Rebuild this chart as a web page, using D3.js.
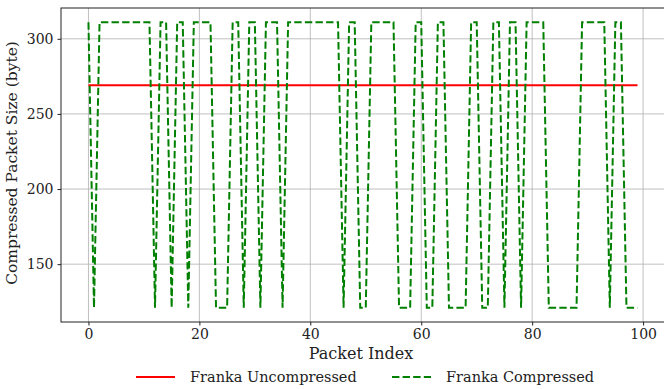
<!DOCTYPE html>
<meta charset="utf-8">
<head>
<style>
body { margin: 0; background: #fff; }
svg text { font-family: "DejaVu Serif", "Liberation Serif", serif; fill: #222; }
.grid line { stroke: #b0b0b0; stroke-width: 0.8; }
.axis path, .axis line { stroke: #222; }
</style>
</head>
<body>
<div id="chart"></div>
<script src="https://d3js.org/d3.v7.min.js"></script>
<script>

// packet sizes
var uncompressedSize = 269;
var compressedSizes = [
  311, 121, 311, 311, 311, 311, 311, 311, 311, 311,
  311, 311, 121, 311, 311, 121, 311, 311, 121, 311,
  311, 311, 311, 121, 121, 121, 311, 311, 121, 311,
  311, 121, 311, 311, 311, 121, 311, 311, 311, 311,
  311, 311, 311, 311, 311, 311, 121, 311, 311, 121,
  121, 311, 311, 311, 311, 311, 121, 121, 121, 311,
  311, 121, 121, 311, 311, 121, 121, 121, 121, 311,
  311, 121, 121, 311, 311, 121, 311, 311, 121, 311,
  311, 311, 311, 121, 121, 121, 121, 121, 121, 311,
  311, 311, 311, 311, 121, 311, 311, 121, 121, 121
];
var xTicks = [0, 20, 40, 60, 80, 100];
var yTicks = [150, 200, 250, 300];
var legendLabels = ["Franka Uncompressed", "Franka Compressed"];

var W = 664, H = 389;
var margin = {top: 8, right: -1, bottom: 67, left: 61};
var width = W - margin.left - margin.right,
    height = H - margin.top - margin.bottom;

var svg = d3.select("#chart").append("svg")
    .attr("width", W).attr("height", H)
  .append("g")
    .attr("transform", "translate(" + margin.left + "," + margin.top + ")");

var n = compressedSizes.length;
var x = d3.scaleLinear()
    .domain([-(n - 1) * 0.05, (n - 1) * 1.05])
    .range([0, width]);
var y = d3.scaleLinear()
    .domain([121 - 9.5, 311 + 9.5])
    .range([height, 0]);

// grid
svg.append("g").attr("class", "grid")
  .selectAll("line.v").data(xTicks).enter().append("line")
    .attr("x1", function(d) { return x(d); }).attr("x2", function(d) { return x(d); })
    .attr("y1", 0).attr("y2", height);
svg.append("g").attr("class", "grid")
  .selectAll("line.h").data(yTicks).enter().append("line")
    .attr("x1", 0).attr("x2", width)
    .attr("y1", function(d) { return y(d); }).attr("y2", function(d) { return y(d); });

// lines
var idx = d3.range(n);
svg.append("path")
    .datum(idx)
    .attr("fill", "none")
    .attr("stroke", "red")
    .attr("stroke-width", 2)
    .attr("d", d3.line()
      .x(function(i) { return x(i); })
      .y(function() { return y(uncompressedSize); }));

svg.append("path")
    .datum(idx)
    .attr("fill", "none")
    .attr("stroke", "green")
    .attr("stroke-width", 2)
    .attr("stroke-dasharray", "7.4,3.2")
    .attr("d", d3.line()
      .x(function(i) { return x(i); })
      .y(function(i) { return y(compressedSizes[i]); }));

// frame
svg.append("rect")
    .attr("width", width).attr("height", height)
    .attr("fill", "none").attr("stroke", "#222").attr("stroke-width", 1);

// axes
svg.append("g").attr("class", "axis")
    .attr("transform", "translate(0," + height + ")")
    .call(d3.axisBottom(x).tickValues(xTicks).tickSize(3.5).tickPadding(4));
svg.append("g").attr("class", "axis")
    .call(d3.axisLeft(y).tickValues(yTicks).tickSize(3.5).tickPadding(4));
svg.selectAll(".axis .domain").remove();
svg.selectAll(".axis text").style("font-size", "14px")
    .style("font-family", "'DejaVu Serif', serif").attr("fill", "#222");

svg.append("text")
    .attr("x", width / 2 - 2)
    .attr("y", height + 37)
    .attr("text-anchor", "middle")
    .style("font-size", "16px")
    .text("Packet Index");

svg.append("text")
    .attr("transform", "rotate(-90)")
    .attr("x", -height / 2 + 2)
    .attr("y", -44)
    .attr("text-anchor", "middle")
    .style("font-size", "15.5px")
    .text("Compressed Packet Size (byte)");

// legend
var legend = svg.append("g")
    .attr("transform", "translate(" + (136 - margin.left) + "," + (377 - margin.top) + ")");
var colors = ["red", "green"];
var dashes = [null, "7.4,3.2"];
var offsets = [0, 256];
legendLabels.forEach(function(lbl, i) {
  var g = legend.append("g").attr("transform", "translate(" + offsets[i] + ",0)");
  g.append("line")
    .attr("x1", 0).attr("x2", 39).attr("y1", 0).attr("y2", 0)
    .attr("stroke", colors[i]).attr("stroke-width", 2)
    .attr("stroke-dasharray", dashes[i]);
  g.append("text")
    .attr("x", 54).attr("y", 5)
    .style("font-size", "14.5px")
    .text(lbl);
});

</script>
</body>
